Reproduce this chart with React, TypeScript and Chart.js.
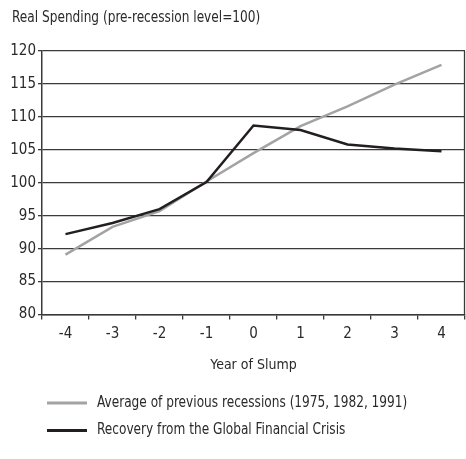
import React, { useEffect, useRef } from "react";
import { Chart, registerables } from "chart.js";
Chart.register(...registerables);

const years = ["-4", "-3", "-2", "-1", "0", "1", "2", "3", "4"];
const previousRecessions = [89.1, 93.3, 95.7, 100.2, 104.5, 108.6, 111.6, 114.9, 117.9];
const gfcRecovery = [92.2, 93.9, 96.0, 100.1, 108.7, 108.0, 105.8, 105.2, 104.8];
const yMin = 80;
const yMax = 120;
const yStep = 5;
const chartTitle = "Real Spending (pre-recession level=100)";
const xAxisTitle = "Year of Slump";
const seriesLabels = [
  "Average of previous recessions (1975, 1982, 1991)",
  "Recovery from the Global Financial Crisis",
];
const seriesColors = ["#a3a3a3", "#231f20"];

const FONT = "'DejaVu Sans Condensed', 'DejaVu Sans', sans-serif";
const TEXT = "#2a2a2a";
const GRID = "#3a3a3a";

function squeezedText(ctx: CanvasRenderingContext2D, text: string, x: number, y: number) {
  ctx.save();
  ctx.translate(x, y);
  ctx.scale(0.9, 1);
  ctx.fillText(text, 0, 0);
  ctx.restore();
}

const overlay = {
  id: "overlay",
  afterDraw(chart: any) {
    const ctx = chart.ctx;
    const area = chart.chartArea;
    ctx.save();
    ctx.strokeStyle = GRID;
    ctx.lineWidth = 1.3;
    ctx.beginPath();
    ctx.moveTo(area.right - 0.5, area.top);
    ctx.lineTo(area.right - 0.5, area.bottom);
    ctx.stroke();
    ctx.font = `15px ${FONT}`;
    ctx.fillStyle = TEXT;
    ctx.textBaseline = "middle";
    ctx.textAlign = "left";
    squeezedText(ctx, chartTitle, 12, 18);
    chart.data.datasets.forEach((ds: any, i: number) => {
      const y = 403 + i * 27.5;
      ctx.strokeStyle = ds.borderColor;
      ctx.lineWidth = 3;
      ctx.beginPath();
      ctx.moveTo(47, y);
      ctx.lineTo(87, y);
      ctx.stroke();
      ctx.fillStyle = TEXT;
      squeezedText(ctx, ds.label, 97, y);
    });
    ctx.restore();
  },
};

export default function App() {
  const ref = useRef<HTMLCanvasElement>(null);
  useEffect(() => {
    const chart = new Chart(ref.current!, {
      type: "line",
      data: {
        labels: years,
        datasets: [
          {
            label: seriesLabels[0],
            data: previousRecessions,
            borderColor: seriesColors[0],
            backgroundColor: seriesColors[0],
            borderWidth: 2.5,
            pointRadius: 0,
            tension: 0,
            order: 1,
          },
          {
            label: seriesLabels[1],
            data: gfcRecovery,
            borderColor: seriesColors[1],
            backgroundColor: seriesColors[1],
            borderWidth: 2.5,
            pointRadius: 0,
            tension: 0,
            order: 0,
          },
        ],
      },
      options: {
        animation: false,
        responsive: true,
        maintainAspectRatio: false,
        layout: { padding: { top: 51, right: 1, left: 0, bottom: 85.5 } },
        plugins: {
          legend: { display: false },
          title: { display: false },
          tooltip: { enabled: false },
        },
        scales: {
          x: {
            offset: true,
            grid: {
              offset: true,
              drawOnChartArea: false,
              color: GRID,
              tickColor: GRID,
              tickLength: 5,
              lineWidth: 1.3,
            },
            border: { display: true, color: GRID, width: 1.5 },
            ticks: {
              color: TEXT,
              font: { family: FONT, size: 15 },
              padding: 6,
              maxRotation: 0,
            },
            title: {
              display: true,
              text: xAxisTitle,
              color: TEXT,
              font: { family: FONT, size: 14 },
              padding: { top: 0, bottom: 0 },
            },
            afterFit(scale: any) {
              scale.height = 59;
            },
          },
          y: {
            min: yMin,
            max: yMax,
            ticks: {
              stepSize: yStep,
              color: TEXT,
              font: { family: FONT, size: 15 },
              padding: 2,
            },
            grid: {
              color: GRID,
              tickColor: GRID,
              tickLength: 4,
              lineWidth: 1.3,
            },
            border: { display: true, color: GRID, width: 1.5 },
            afterFit(scale: any) {
              scale.width = 42;
            },
          },
        },
      },
      plugins: [overlay],
    });
    return () => chart.destroy();
  }, []);
  return (
    <div style={{ position: "absolute", left: 0, top: 0, width: 466, height: 459, background: "#fff" }}>
      <canvas ref={ref} />
    </div>
  );
}
